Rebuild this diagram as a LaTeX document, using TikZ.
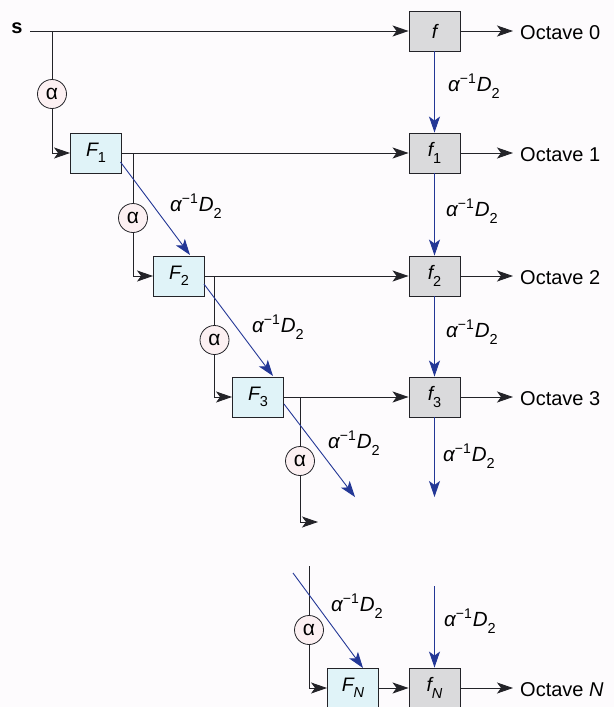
\documentclass[tikz,border=0pt]{standalone}
\usepackage{fontspec}
\setmainfont{Liberation Sans}
\usetikzlibrary{arrows.meta}
\definecolor{lineC}{RGB}{35,35,40}
\definecolor{blueC}{RGB}{35,55,150}
\definecolor{Ffill}{RGB}{224,243,248}
\definecolor{ffill}{RGB}{218,218,220}
\definecolor{afill}{RGB}{252,240,242}
\definecolor{bgC}{RGB}{253,251,253}
\newcommand{\sbs}[1]{\raisebox{-0.32em}{\fontsize{14.5}{14.5}\selectfont #1}}
\newcommand{\sps}[1]{\raisebox{0.42em}{\fontsize{14}{14}\selectfont #1}}
\newcommand{\alab}{{\itshape α}\sps{−1}\kern1pt{\itshape D}\sbs{2}}
\begin{document}
\begin{tikzpicture}[x=1pt,y=-1pt,
  Fbox/.style={draw=lineC,line width=0.9pt,fill=Ffill,minimum width=51pt,minimum height=40pt,inner sep=0pt,font=\fontsize{19.5}{21}\selectfont},
  fbox/.style={draw=lineC,line width=0.9pt,fill=ffill,minimum width=51pt,minimum height=40pt,inner sep=0pt,font=\fontsize{19.5}{21}\selectfont},
  acirc/.style={draw=lineC,line width=0.8pt,fill=afill,circle,minimum size=29pt,inner sep=0pt,font=\fontsize{21}{22}\selectfont},
  conn/.style={draw=lineC,line width=0.9pt},
  arr/.style={conn,-{Stealth[length=16pt,width=11pt,inset=4pt]}},
  barr/.style={draw=blueC,line width=0.9pt,-{Stealth[length=16pt,width=11pt,inset=4pt]}},
  lab/.style={font=\fontsize{20.5}{22}\selectfont,inner sep=0pt},
  oct/.style={font=\fontsize{20}{22}\selectfont,anchor=west,inner sep=0pt}]
\fill[bgC] (0,0) rectangle (614,707);
\useasboundingbox (0,0) rectangle (614,707);

% boxes
\node[fbox] (f0) at (434.5,31) {\itshape f};
\node[Fbox] (F1) at (96,153) {{\itshape F}\sbs{1}};
\node[fbox] (f1) at (434.5,153) {{\itshape f}\sbs{1}};
\node[Fbox] (F2) at (179,276) {{\itshape F}\sbs{2}};
\node[fbox] (f2) at (434.5,276) {{\itshape f}\sbs{2}};
\node[Fbox] (F3) at (258,397) {{\itshape F}\sbs{3}};
\node[fbox] (f3) at (434.5,397) {{\itshape f}\sbs{3}};
\node[Fbox] (FN) at (353,688) {{\itshape F}\sbs{\itshape N}};
\node[fbox] (fN) at (434.5,688) {{\itshape f}\sbs{\itshape N}};

% alpha circles
\node[acirc] (a0) at (52,94) {α};
\node[acirc] (a1) at (133,218) {α};
\node[acirc] (a2) at (214.5,340) {α};
\node[acirc] (a3) at (300,461) {α};
\node[acirc] (aN) at (309,630) {α};

% input
\node[font=\fontsize{20}{22}\selectfont\bfseries] (s) at (17,28) {s};
\coordinate (s0) at (30,31);
\coordinate (b0) at (52,31);
\coordinate (c0) at (52,153);
\draw[arr] (s0) -- (f0.west);
\draw[conn] (b0) -- (a0.north);
\draw[arr] (a0.south) -- (c0) -- (F1.west);

% row 1
\coordinate (b1) at (133,153);
\coordinate (c1) at (133,276);
\draw[arr] (F1.east) -- (f1.west);
\draw[conn] (b1) -- (a1.north);
\draw[arr] (a1.south) -- (c1) -- (F2.west);

% row 2
\coordinate (b2) at (214.5,276);
\coordinate (c2) at (214.5,397);
\draw[arr] (F2.east) -- (f2.west);
\draw[conn] (b2) -- (a2.north);
\draw[arr] (a2.south) -- (c2) -- (F3.west);

% row 3
\coordinate (b3) at (300,397);
\coordinate (c3) at (300,522);
\coordinate (e3) at (318,522);
\draw[arr] (F3.east) -- (f3.west);
\draw[conn] (b3) -- (a3.north);
\draw[arr] (a3.south) -- (c3) -- (e3);

% row N
\coordinate (bN) at (309,566);
\coordinate (cN) at (309,688);
\draw[conn] (bN) -- (aN.north);
\draw[arr] (aN.south) -- (cN) -- (FN.west);
\draw[arr] (FN.east) -- (fN.west);

% octave outputs
\node[oct] (o0) at (520,33) {Octave 0};
\node[oct] (o1) at (520,155) {Octave 1};
\node[oct] (o2) at (520,278) {Octave 2};
\node[oct] (o3) at (520,399) {Octave 3};
\node[oct] (oN) at (520,690) {Octave {\itshape N}};
\draw[arr] (f0.east) -- ([xshift=-7pt]f0.east -| o0.west);
\draw[arr] (f1.east) -- ([xshift=-7pt]f1.east -| o1.west);
\draw[arr] (f2.east) -- ([xshift=-7pt]f2.east -| o2.west);
\draw[arr] (f3.east) -- ([xshift=-7pt]f3.east -| o3.west);
\draw[arr] (fN.east) -- ([xshift=-7pt]fN.east -| oN.west);

% blue vertical arrows
\coordinate (v3) at (434.5,497);
\coordinate (vN) at (434.5,586);
\draw[barr] (f0.south) -- (f1.north);
\draw[barr] (f1.south) -- (f2.north);
\draw[barr] (f2.south) -- (f3.north);
\draw[barr] (f3.south) -- (v3);
\draw[barr] (vN) -- (fN.north);

% blue diagonal arrows
\coordinate (d1) at (120.5,162);
\coordinate (t2) at (190,255);
\coordinate (d2) at (204,284);
\coordinate (t3) at (273,376);
\coordinate (d3) at (284,404);
\coordinate (e4) at (355,497);
\coordinate (dN) at (293,573);
\coordinate (tN) at (363,668);
\draw[barr] (d1) -- (t2);
\draw[barr] (d2) -- (t3);
\draw[barr] (d3) -- (e4);
\draw[barr] (dN) -- (tN);

% labels
\node[lab] (l0) at (474,86) {\alab};
\node[lab] (l1) at (472,211) {\alab};
\node[lab] (l2) at (472,332) {\alab};
\node[lab] (l3) at (469,456) {\alab};
\node[lab] (lN) at (470,621) {\alab};
\node[lab] (m1) at (196,206) {\alab};
\node[lab] (m2) at (278,327) {\alab};
\node[lab] (m3) at (354,443) {\alab};
\node[lab] (mN) at (357,606) {\alab};
\end{tikzpicture}
\end{document}
